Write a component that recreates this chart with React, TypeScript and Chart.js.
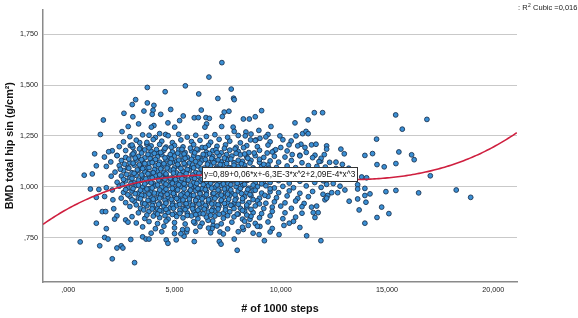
import React, { useEffect, useRef } from "react";
import { Chart, registerables } from "chart.js";

Chart.register(...registerables);

// ---- Data (x = thousands of steps, y = BMD g/cm²) ----
const xTicks = [0, 5, 10, 15, 20];
const yTicks = [0.75, 1.0, 1.25, 1.5, 1.75];
const xRange = [-1.19, 21.12];
const yRange = [0.532, 1.872];

// cubic fit coefficients
const fitCoefficients = [0.893, 0.0575, -0.0063, 0.000209];
const fitLabel = "y=0,89+0,06*x+-6,3E-3*x^2+2,09E-4*x^3";
const fitLabelAt = [6.28, 1.098];
const rSquaredValue = "0,016";
const xTitle = "# of 1000 steps";
const yTitle = "BMD total hip sin (g/cm²)";

const outliersLeft: [number, number][] = [
  [3.72, 1.488], [4.56, 1.467], [3.17, 1.428], [3.01, 1.404], [3.72, 1.412], [4.03, 1.4], [3.99, 1.376],
  [4.82, 1.38], [2.62, 1.361], [3.56, 1.372], [3.95, 1.356], [4.35, 1.356], [3.04, 1.344], [1.65, 1.328],
  [3.31, 1.309], [2.82, 1.296], [4.03, 1.301], [3.91, 1.293], [4.69, 1.314], [5.01, 1.293], [5.24, 1.325],
  [2.53, 1.271], [1.51, 1.257], [3.8, 1.253], [4.3, 1.261], [4.58, 1.257], [3.36, 1.217], [2.92, 1.202],
  [3.04, 1.193], [1.24, 1.162], [2.07, 1.177], [2.29, 1.154], [3.7, 1.209], [1.32, 1.103], [1.79, 1.1],
  [0.75, 1.057], [1.13, 1.063], [2.02, 1.052], [1.04, 0.989], [1.44, 0.987], [1.79, 0.995], [2.07, 0.984],
  [1.32, 0.948], [1.71, 0.952], [2.1, 0.936], [2.49, 0.944], [1.6, 0.878], [1.76, 0.878], [2.14, 0.892],
  [2.29, 0.857], [2.18, 0.841], [1.32, 0.821], [2.7, 0.837], [2.81, 0.826], [1.79, 0.794], [1.71, 0.751],
  [1.87, 0.743], [0.56, 0.729], [1.48, 0.71], [2.29, 0.699], [2.49, 0.71], [2.57, 0.699], [2.94, 0.741],
  [2.07, 0.646], [3.12, 0.627], [3.5, 0.754], [3.66, 0.743], [3.8, 0.743], [4.61, 0.739], [4.69, 0.722],
  [5.0, 0.77], [5.08, 0.739],
];

const outliersTop: [number, number][] = [
  [7.23, 1.61], [6.62, 1.539], [5.51, 1.496], [7.67, 1.48], [6.14, 1.456], [7.04, 1.434], [7.78, 1.435],
  [7.81, 1.428], [6.26, 1.377], [7.34, 1.367], [7.56, 1.371], [9.1, 1.374], [5.41, 1.348], [5.93, 1.339],
  [6.12, 1.34], [7.25, 1.345], [6.48, 1.34], [6.64, 1.336], [8.24, 1.333], [8.52, 1.333], [8.8, 1.344],
  [11.58, 1.364], [11.29, 1.329], [10.67, 1.314], [11.97, 1.364], [6.51, 1.309], [6.43, 1.293], [7.22, 1.296],
  [7.76, 1.293], [7.81, 1.272], [8.97, 1.277], [9.54, 1.296], [8.36, 1.269], [8.33, 1.25], [9.4, 1.257],
  [9.96, 1.25], [10.72, 1.25], [11.03, 1.261], [11.19, 1.272], [11.29, 1.261], [10.49, 1.225], [10.39, 1.206],
  [10.95, 1.209], [11.14, 1.193], [11.45, 1.206], [11.66, 1.209], [10.54, 1.158], [10.9, 1.155], [11.61, 1.155],
  [9.69, 1.177], [9.76, 1.182], [9.36, 1.166], [9.02, 1.238], [8.83, 1.23], [8.58, 1.23],
];

const outliersRight: [number, number][] = [
  [12.83, 1.185], [12.99, 1.162], [13.96, 1.154], [14.32, 1.163], [14.51, 1.234], [12.16, 1.201], [12.16, 1.185],
  [15.41, 1.353], [16.88, 1.331], [15.72, 1.283], [12.05, 1.158], [11.88, 1.126], [14.53, 1.109], [14.87, 1.098],
  [15.42, 1.114], [15.56, 1.171], [16.16, 1.157], [16.28, 1.133], [17.04, 1.054], [14.2, 0.965], [14.95, 0.976],
  [15.42, 0.982], [16.49, 0.97], [18.26, 0.984], [18.94, 0.948], [14.75, 0.9], [15.09, 0.868], [14.53, 0.849],
  [12.16, 1.012], [12.47, 1.016], [12.79, 1.003], [13.62, 1.01], [13.62, 0.989], [13.96, 0.992], [13.81, 1.048],
  [14.04, 1.044], [11.99, 0.963], [12.21, 0.957], [12.4, 0.971], [12.68, 0.971], [13.02, 0.984], [12.08, 0.936],
  [13.22, 0.929], [13.62, 0.94], [13.96, 0.957], [14.01, 0.924], [13.69, 0.886], [13.96, 0.821], [11.69, 0.905],
  [11.76, 0.873], [11.61, 0.849], [11.89, 0.735], [12.16, 0.944], [11.53, 0.873], [11.45, 0.9],
  [11.9, 1.14], [12.3, 1.12], [12.6, 1.09], [13.1, 1.07], [12.9, 1.11], [13.4, 1.06], [12.2, 1.075], [11.7, 1.1],
];

const outliersBottom: [number, number][] = [
  [5.96, 0.821], [5.93, 0.731], [7.14, 0.778], [7.11, 0.731], [7.19, 0.718], [7.81, 0.743], [7.95, 0.688],
  [8.24, 0.79], [8.47, 0.81], [8.55, 0.84], [9.02, 0.805], [8.98, 0.765], [9.23, 0.735], [9.92, 0.765],
  [11.22, 0.759], [5.45, 0.757], [5.57, 0.778], [5.38, 0.789], [6.82, 0.81], [6.58, 0.835], [6.77, 0.795],
  [10.15, 0.81], [10.6, 0.83], [11.0, 0.87], [10.9, 0.8],
];

const coreUpper: [number, number][] = [
  [2.9, 1.246], [3.5, 1.255], [4.1, 1.242], [4.7, 1.251], [5.2, 1.258], [5.6, 1.244], [6.0, 1.253], [6.5, 1.247],
  [6.9, 1.256], [7.5, 1.243], [8.0, 1.252], [8.6, 1.259], [9.3, 1.245],
  [2.6, 1.221], [3.2, 1.229], [3.7, 1.218], [4.0, 1.232], [4.4, 1.224], [4.9, 1.217], [5.3, 1.23], [5.8, 1.222],
  [6.2, 1.228], [6.7, 1.219], [7.1, 1.233], [7.6, 1.224], [8.1, 1.216], [8.8, 1.227], [9.5, 1.221], [10.1, 1.231],
  [2.4, 1.197], [3.0, 1.205], [3.4, 1.192], [3.9, 1.201], [4.3, 1.208], [4.6, 1.195], [5.0, 1.203], [5.4, 1.196],
  [5.9, 1.207], [6.3, 1.193], [6.6, 1.204], [7.0, 1.199], [7.4, 1.206], [7.9, 1.194], [8.4, 1.202], [8.9, 1.197],
  [9.4, 1.205], [10.0, 1.193], [10.8, 1.201],
  [1.9, 1.172], [2.7, 1.178], [3.1, 1.169], [3.6, 1.181], [3.9, 1.174], [4.2, 1.166], [4.5, 1.179], [4.9, 1.171],
  [5.2, 1.183], [5.5, 1.168], [5.8, 1.176], [6.1, 1.181], [6.5, 1.17], [6.8, 1.177], [7.2, 1.167], [7.6, 1.18],
  [8.0, 1.173], [8.5, 1.168], [9.0, 1.179], [9.6, 1.171], [10.3, 1.176], [11.2, 1.169],
  [1.7, 1.146], [2.3, 1.153], [2.7, 1.144], [3.0, 1.157], [3.3, 1.149], [3.6, 1.142], [3.9, 1.155], [4.2, 1.147],
  [4.4, 1.158], [4.7, 1.143], [5.0, 1.151], [5.3, 1.156], [5.6, 1.145], [5.9, 1.152], [6.2, 1.141], [6.5, 1.157],
  [6.8, 1.148], [7.1, 1.154], [7.4, 1.143], [7.7, 1.151], [8.1, 1.157], [8.4, 1.146], [8.8, 1.153], [9.2, 1.144],
  [9.7, 1.15], [10.2, 1.146], [10.9, 1.152], [11.5, 1.143],
];

const coreMid: [number, number][] = [
  [2.0, 1.122], [2.5, 1.129], [2.9, 1.118], [3.2, 1.131], [3.5, 1.123], [3.8, 1.116], [4.0, 1.128], [4.3, 1.121],
  [4.6, 1.133], [4.9, 1.119], [5.1, 1.126], [5.4, 1.131], [5.7, 1.117], [6.0, 1.124], [6.3, 1.13], [6.6, 1.119],
  [6.9, 1.127], [7.2, 1.122], [7.5, 1.132], [7.8, 1.118], [8.2, 1.125], [8.6, 1.13], [9.0, 1.12], [9.5, 1.127],
  [9.9, 1.121], [10.5, 1.129], [11.0, 1.118], [11.8, 1.124], [12.6, 1.121],
  [2.4, 1.104], [2.8, 1.094], [3.1, 1.106], [3.4, 1.098], [3.7, 1.091], [4.1, 1.103], [4.4, 1.096], [4.7, 1.107],
  [5.0, 1.093], [5.2, 1.101], [5.5, 1.108], [5.8, 1.095], [6.1, 1.102], [6.4, 1.092], [6.7, 1.105], [7.0, 1.097],
  [7.3, 1.108], [7.6, 1.094], [8.0, 1.101], [8.3, 1.106], [8.7, 1.093], [9.1, 1.1], [9.4, 1.107], [9.8, 1.095],
  [10.3, 1.102], [10.7, 1.094], [11.3, 1.104], [12.1, 1.097], [13.2, 1.091],
  [2.2, 1.072], [2.6, 1.079], [3.0, 1.069], [3.3, 1.081], [3.6, 1.074], [3.9, 1.067], [4.2, 1.078], [4.5, 1.071],
  [4.8, 1.082], [5.1, 1.068], [5.4, 1.076], [5.7, 1.081], [6.0, 1.07], [6.3, 1.077], [6.5, 1.066], [6.8, 1.08],
  [7.1, 1.073], [7.4, 1.068], [7.8, 1.079], [8.1, 1.072], [8.5, 1.081], [8.9, 1.069], [9.3, 1.076], [9.6, 1.071],
  [10.0, 1.08], [10.5, 1.068], [11.1, 1.077], [11.7, 1.071], [12.4, 1.079],
  [2.5, 1.053], [2.9, 1.044], [3.2, 1.056], [3.5, 1.048], [3.8, 1.041], [4.1, 1.054], [4.4, 1.047], [4.6, 1.057],
  [4.9, 1.043], [5.2, 1.051], [5.5, 1.056], [5.8, 1.045], [6.1, 1.052], [6.4, 1.041], [6.7, 1.055], [7.0, 1.048],
  [7.3, 1.057], [7.6, 1.043], [7.9, 1.05], [8.2, 1.056], [8.6, 1.044], [9.0, 1.052], [9.4, 1.046], [9.8, 1.055],
  [10.2, 1.043], [10.8, 1.051], [11.4, 1.046], [12.2, 1.054], [13.0, 1.044],
  [2.3, 1.022], [2.7, 1.029], [3.1, 1.019], [3.4, 1.031], [3.7, 1.024], [4.0, 1.017], [4.3, 1.028], [4.5, 1.021],
  [4.8, 1.032], [5.1, 1.018], [5.3, 1.026], [5.6, 1.031], [5.9, 1.02], [6.2, 1.027], [6.5, 1.016], [6.8, 1.03],
  [7.1, 1.023], [7.5, 1.018], [7.8, 1.029], [8.1, 1.022], [8.4, 1.031], [8.8, 1.019], [9.2, 1.026], [9.5, 1.021],
  [9.9, 1.03], [10.4, 1.018], [10.9, 1.027], [11.6, 1.021], [12.0, 1.029],
  [2.4, 1.003], [2.8, 0.994], [3.2, 1.006], [3.5, 0.998], [3.8, 0.991], [4.1, 1.004], [4.4, 0.997], [4.7, 1.007],
  [5.0, 0.993], [5.3, 1.001], [5.5, 1.006], [5.8, 0.995], [6.0, 1.002], [6.3, 0.991], [6.6, 1.005], [6.9, 0.998],
  [7.2, 1.007], [7.5, 0.994], [7.9, 1.001], [8.2, 1.006], [8.5, 0.993], [8.9, 1.0], [9.3, 1.005], [9.7, 0.994],
  [10.1, 1.002], [10.6, 0.995], [11.2, 1.004], [11.9, 0.997],
];

const coreLow: [number, number][] = [
  [2.6, 0.972], [3.0, 0.979], [3.3, 0.969], [3.6, 0.981], [3.9, 0.974], [4.2, 0.967], [4.5, 0.978], [4.8, 0.971],
  [5.1, 0.982], [5.4, 0.968], [5.7, 0.976], [6.0, 0.981], [6.2, 0.97], [6.5, 0.977], [6.8, 0.966], [7.1, 0.98],
  [7.4, 0.973], [7.7, 0.968], [8.0, 0.979], [8.4, 0.972], [8.7, 0.981], [9.1, 0.969], [9.5, 0.976], [9.9, 0.971],
  [10.4, 0.98], [10.9, 0.968], [11.5, 0.977],
  [2.9, 0.953], [3.3, 0.944], [3.6, 0.956], [3.9, 0.948], [4.1, 0.941], [4.4, 0.954], [4.7, 0.947], [5.0, 0.957],
  [5.2, 0.943], [5.5, 0.951], [5.8, 0.956], [6.1, 0.945], [6.4, 0.952], [6.7, 0.941], [7.0, 0.955], [7.3, 0.948],
  [7.6, 0.957], [7.9, 0.943], [8.3, 0.95], [8.6, 0.956], [9.0, 0.944], [9.4, 0.952], [9.8, 0.946], [10.3, 0.955],
  [10.8, 0.943], [11.3, 0.951],
  [2.7, 0.922], [3.1, 0.929], [3.5, 0.919], [3.8, 0.931], [4.0, 0.924], [4.3, 0.917], [4.6, 0.928], [4.9, 0.921],
  [5.2, 0.932], [5.5, 0.918], [5.7, 0.926], [6.0, 0.931], [6.3, 0.92], [6.6, 0.927], [6.9, 0.916], [7.2, 0.93],
  [7.5, 0.923], [7.8, 0.918], [8.2, 0.929], [8.5, 0.922], [8.9, 0.931], [9.3, 0.919], [9.7, 0.926], [10.2, 0.921],
  [10.7, 0.93], [11.1, 0.918],
  [2.9, 0.903], [3.4, 0.894], [3.7, 0.906], [4.0, 0.898], [4.2, 0.891], [4.5, 0.904], [4.8, 0.897], [5.1, 0.907],
  [5.4, 0.893], [5.6, 0.901], [5.9, 0.906], [6.2, 0.895], [6.5, 0.902], [6.8, 0.891], [7.1, 0.905], [7.4, 0.898],
  [7.7, 0.907], [8.1, 0.894], [8.4, 0.901], [8.8, 0.906], [9.2, 0.893], [9.6, 0.9], [10.0, 0.905], [10.5, 0.894],
  [11.0, 0.902],
  [3.3, 0.872], [3.8, 0.879], [4.1, 0.869], [4.4, 0.881], [4.7, 0.874], [5.0, 0.867], [5.3, 0.878], [5.6, 0.871],
  [5.9, 0.882], [6.2, 0.868], [6.6, 0.876], [6.9, 0.881], [7.3, 0.87], [7.6, 0.877], [8.0, 0.866], [8.3, 0.88],
  [8.7, 0.873], [9.1, 0.868], [9.6, 0.879], [10.2, 0.872],
  [3.0, 0.853], [3.6, 0.844], [4.0, 0.856], [4.3, 0.848], [4.7, 0.841], [5.1, 0.854], [5.4, 0.847], [5.8, 0.857],
  [6.1, 0.843], [6.5, 0.851], [6.9, 0.856], [7.3, 0.845], [7.8, 0.852], [8.2, 0.841], [8.6, 0.855], [9.0, 0.848],
  [9.5, 0.857], [10.1, 0.843], [10.7, 0.851],
  [3.2, 0.822], [3.8, 0.829], [4.2, 0.819], [4.6, 0.831], [5.0, 0.824], [5.5, 0.817], [5.9, 0.828], [6.3, 0.821],
  [6.8, 0.832], [7.2, 0.818], [7.7, 0.826], [8.3, 0.831], [8.8, 0.82], [9.4, 0.827], [10.4, 0.821],
  [3.5, 0.803], [4.1, 0.794], [4.5, 0.806], [5.0, 0.798], [5.6, 0.791], [6.2, 0.804], [6.6, 0.797], [7.0, 0.807],
  [7.5, 0.793], [8.2, 0.801], [8.9, 0.806], [9.6, 0.795],
  [3.9, 0.772], [4.4, 0.779], [5.3, 0.769], [6.0, 0.781], [6.7, 0.774], [7.3, 0.768], [8.0, 0.779], [8.7, 0.772],
  [9.5, 0.778],
];

// extra points packing the densest part of the cloud
const coreFill: [number, number][] = [
  [3.35, 1.186], [3.8, 1.191], [4.15, 1.183], [4.55, 1.189], [4.85, 1.194], [5.35, 1.184], [5.75, 1.19], [6.05, 1.185],
  [6.45, 1.193], [6.95, 1.182], [7.35, 1.189], [7.85, 1.186], [8.25, 1.192],
  [3.05, 1.161], [3.45, 1.166], [3.75, 1.159], [4.05, 1.164], [4.35, 1.168], [4.8, 1.158], [5.15, 1.165], [5.45, 1.161],
  [5.95, 1.167], [6.35, 1.159], [6.65, 1.163], [7.0, 1.168], [7.45, 1.158], [7.9, 1.164], [8.3, 1.161], [8.75, 1.166],
  [2.85, 1.136], [3.15, 1.141], [3.45, 1.133], [3.85, 1.139], [4.1, 1.134], [4.55, 1.142], [4.85, 1.136], [5.2, 1.131],
  [5.5, 1.14], [5.8, 1.135], [6.1, 1.143], [6.45, 1.134], [6.75, 1.139], [7.05, 1.132], [7.35, 1.141], [7.65, 1.136],
  [8.0, 1.13], [8.45, 1.14], [9.0, 1.135],
  [2.65, 1.111], [3.05, 1.116], [3.35, 1.108], [3.6, 1.114], [3.95, 1.119], [4.25, 1.109], [4.5, 1.113], [4.8, 1.118],
  [5.15, 1.11], [5.45, 1.115], [5.85, 1.107], [6.2, 1.116], [6.55, 1.111], [6.85, 1.118], [7.15, 1.109], [7.45, 1.114],
  [7.8, 1.106], [8.15, 1.113], [8.55, 1.117], [9.2, 1.11],
  [2.45, 1.086], [2.85, 1.091], [3.25, 1.083], [3.5, 1.089], [3.8, 1.094], [4.05, 1.084], [4.35, 1.088], [4.65, 1.092],
  [4.95, 1.083], [5.3, 1.09], [5.6, 1.085], [5.9, 1.093], [6.25, 1.087], [6.6, 1.082], [6.95, 1.09], [7.25, 1.085],
  [7.55, 1.092], [7.95, 1.084], [8.35, 1.089], [8.75, 1.086], [9.45, 1.091],
  [2.75, 1.061], [3.1, 1.066], [3.45, 1.058], [3.75, 1.064], [4.0, 1.069], [4.3, 1.059], [4.6, 1.063], [4.95, 1.067],
  [5.25, 1.06], [5.55, 1.065], [5.85, 1.058], [6.15, 1.066], [6.4, 1.061], [6.75, 1.068], [7.05, 1.059], [7.35, 1.064],
  [7.7, 1.06], [8.05, 1.067], [8.4, 1.062], [8.8, 1.058], [9.2, 1.065],
  [2.6, 1.036], [3.0, 1.041], [3.3, 1.033], [3.65, 1.039], [3.95, 1.044], [4.25, 1.034], [4.55, 1.038], [4.8, 1.042],
  [5.05, 1.035], [5.35, 1.04], [5.65, 1.033], [5.95, 1.041], [6.3, 1.036], [6.6, 1.043], [6.9, 1.034], [7.2, 1.039],
  [7.45, 1.035], [7.75, 1.042], [8.05, 1.037], [8.45, 1.033], [8.85, 1.04], [9.6, 1.036],
  [2.55, 1.011], [2.95, 1.016], [3.3, 1.008], [3.6, 1.014], [3.9, 1.019], [4.2, 1.009], [4.6, 1.013], [4.9, 1.017],
  [5.2, 1.01], [5.45, 1.015], [5.75, 1.008], [6.05, 1.016], [6.35, 1.011], [6.7, 1.018], [7.0, 1.009], [7.3, 1.014],
  [7.65, 1.01], [7.95, 1.017], [8.3, 1.012], [8.7, 1.008], [9.1, 1.015],
  [2.7, 0.986], [3.05, 0.991], [3.4, 0.983], [3.7, 0.989], [3.95, 0.994], [4.3, 0.984], [4.6, 0.988], [4.9, 0.992],
  [5.15, 0.985], [5.45, 0.99], [5.75, 0.983], [6.1, 0.991], [6.45, 0.986], [6.75, 0.993], [7.05, 0.984], [7.35, 0.989],
  [7.65, 0.985], [8.1, 0.992], [8.45, 0.987], [8.8, 0.983], [9.5, 0.99],
  [2.8, 0.961], [3.15, 0.966], [3.45, 0.958], [3.8, 0.964], [4.05, 0.969], [4.35, 0.959], [4.65, 0.963], [4.95, 0.967],
  [5.3, 0.96], [5.6, 0.965], [5.9, 0.958], [6.2, 0.966], [6.5, 0.961], [6.85, 0.968], [7.2, 0.959], [7.5, 0.964],
  [7.85, 0.96], [8.15, 0.967], [8.55, 0.962], [9.25, 0.958],
  [3.0, 0.936], [3.4, 0.941], [3.75, 0.933], [4.0, 0.939], [4.3, 0.944], [4.55, 0.934], [4.85, 0.938], [5.1, 0.942],
  [5.4, 0.935], [5.7, 0.94], [6.0, 0.933], [6.3, 0.941], [6.6, 0.936], [6.9, 0.943], [7.2, 0.934], [7.55, 0.939],
  [7.85, 0.935], [8.2, 0.942], [8.7, 0.937],
  [3.2, 0.911], [3.6, 0.916], [3.95, 0.908], [4.25, 0.914], [4.6, 0.919], [4.9, 0.909], [5.25, 0.913], [5.55, 0.917],
  [5.85, 0.91], [6.15, 0.915], [6.45, 0.908], [6.75, 0.916], [7.05, 0.911], [7.35, 0.918], [7.65, 0.909], [8.0, 0.914],
  [8.4, 0.91], [9.0, 0.916],
  [3.55, 0.886], [3.95, 0.891], [4.3, 0.883], [4.6, 0.889], [4.95, 0.894], [5.25, 0.884], [5.5, 0.888], [5.85, 0.892],
  [6.1, 0.885], [6.4, 0.89], [6.75, 0.883], [7.05, 0.891], [7.4, 0.886], [7.8, 0.893], [8.2, 0.884], [8.6, 0.889],
  [3.7, 0.861], [4.2, 0.866], [4.55, 0.858], [4.9, 0.864], [5.25, 0.869], [5.6, 0.859], [6.0, 0.863], [6.35, 0.867],
  [6.7, 0.86], [7.1, 0.865], [7.5, 0.858], [7.95, 0.866], [8.4, 0.861],
];

const FONT = '"Liberation Sans", Arial, sans-serif';

const fmt = (v: number) => {
  const s = v.toFixed(3).replace(".", ",");
  return s.startsWith("0,") ? s.slice(1) : s;
};

const fitValue = (x: number) =>
  fitCoefficients[0] + fitCoefficients[1] * x + fitCoefficients[2] * x * x + fitCoefficients[3] * x * x * x;

const annotationPlugin = {
  id: "annotationPlugin",
  afterDraw(chart: any) {
    const { ctx, scales } = chart;
    const xs = scales.x;
    const ys = scales.y;
    ctx.save();
    // equation box
    ctx.font = `8.3px ${FONT}`;
    const w = ctx.measureText(fitLabel).width;
    const left = Math.round(xs.getPixelForValue(fitLabelAt[0]));
    const top = Math.round(ys.getPixelForValue(fitLabelAt[1]));
    const bw = Math.round(w + 4);
    const bh = 14;
    ctx.fillStyle = "#ffffff";
    ctx.fillRect(left, top, bw, bh);
    ctx.strokeStyle = "#333333";
    ctx.lineWidth = 1;
    ctx.strokeRect(left + 0.5, top + 0.5, bw, bh);
    ctx.fillStyle = "#111111";
    ctx.textBaseline = "middle";
    ctx.textAlign = "left";
    ctx.fillText(fitLabel, left + 2, top + bh / 2 + 1);
    // R² legend text
    const ry = 8;
    let rx = 518;
    ctx.font = `7.5px ${FONT}`;
    ctx.fillStyle = "#222222";
    const p1 = ": R";
    ctx.fillText(p1, rx, ry);
    rx += ctx.measureText(p1).width;
    ctx.font = `5px ${FONT}`;
    ctx.fillText("2", rx + 0.3, ry - 2);
    rx += ctx.measureText("2").width + 0.6;
    ctx.font = `7.5px ${FONT}`;
    ctx.fillText(" Cubic =" + rSquaredValue, rx, ry);
    ctx.restore();
  },
};

export default function App() {
  const ref = useRef<HTMLCanvasElement | null>(null);

  useEffect(() => {
    if (!ref.current) return;
    const pts = [
      ...outliersLeft,
      ...outliersTop,
      ...outliersRight,
      ...outliersBottom,
      ...coreUpper,
      ...coreMid,
      ...coreLow,
      ...coreFill,
    ].map(([x, y]) => ({ x, y }));
    const curve: { x: number; y: number }[] = [];
    for (let x = xRange[0]; x <= xRange[1] + 1e-9; x += 0.1) curve.push({ x, y: fitValue(x) });

    const chart = new Chart(ref.current, {
      type: "scatter",
      data: {
        datasets: [
          {
            type: "line",
            data: curve,
            borderColor: "#cf1f3f",
            borderWidth: 1.6,
            pointRadius: 0,
            fill: false,
            tension: 0,
          } as any,
          {
            data: pts,
            backgroundColor: "#3a8fd4",
            borderColor: "#1b3454",
            borderWidth: 0.9,
            pointRadius: 2.4,
          },
        ],
      },
      plugins: [annotationPlugin],
      options: {
        animation: false,
        responsive: false,
        maintainAspectRatio: false,
        layout: { padding: { left: 0, right: 61, top: 0, bottom: 0 } },
        plugins: { legend: { display: false }, tooltip: { enabled: false } },
        scales: {
          x: {
            type: "linear",
            min: xRange[0],
            max: xRange[1],
            afterBuildTicks: (s: any) => {
              s.ticks = xTicks.map((v) => ({ value: v }));
            },
            afterFit: (s: any) => {
              s.height = 36;
            },
            ticks: {
              callback: (v: any) => fmt(Number(v)),
              font: { family: FONT, size: 7.2 },
              color: "#222",
              padding: 4,
              maxRotation: 0,
              autoSkip: false,
            },
            grid: { color: "rgba(0,0,0,0)", drawTicks: false },
            border: { display: true, color: "#8a8a8a", width: 1.5 },
            title: {
              display: true,
              text: xTitle,
              font: { family: FONT, size: 10.8, weight: "bold" },
              color: "#111",
              padding: { top: 0, bottom: 2.4 },
            },
          },
          y: {
            type: "linear",
            min: yRange[0],
            max: yRange[1],
            afterBuildTicks: (s: any) => {
              s.ticks = yTicks.map((v) => ({ value: v }));
            },
            afterFit: (s: any) => {
              s.width = 43;
            },
            ticks: {
              callback: (v: any) => fmt(Number(v)),
              font: { family: FONT, size: 7.2 },
              color: "#222",
              padding: 5,
              autoSkip: false,
            },
            grid: { color: "#c9c9c9", lineWidth: 1, drawTicks: false },
            border: { display: true, color: "#8a8a8a", width: 1.5 },
            title: {
              display: true,
              text: yTitle,
              font: { family: FONT, size: 10.8, weight: "bold" },
              color: "#111",
              padding: { top: 3.4, bottom: 0 },
            },
          },
        },
      },
    });
    return () => chart.destroy();
  }, []);

  return (
    <div style={{ position: "absolute", left: 0, top: 0, width: 578, height: 318, background: "#fff" }}>
      <canvas ref={ref} width={578} height={318} style={{ width: 578, height: 318, display: "block" }} />
    </div>
  );
}
